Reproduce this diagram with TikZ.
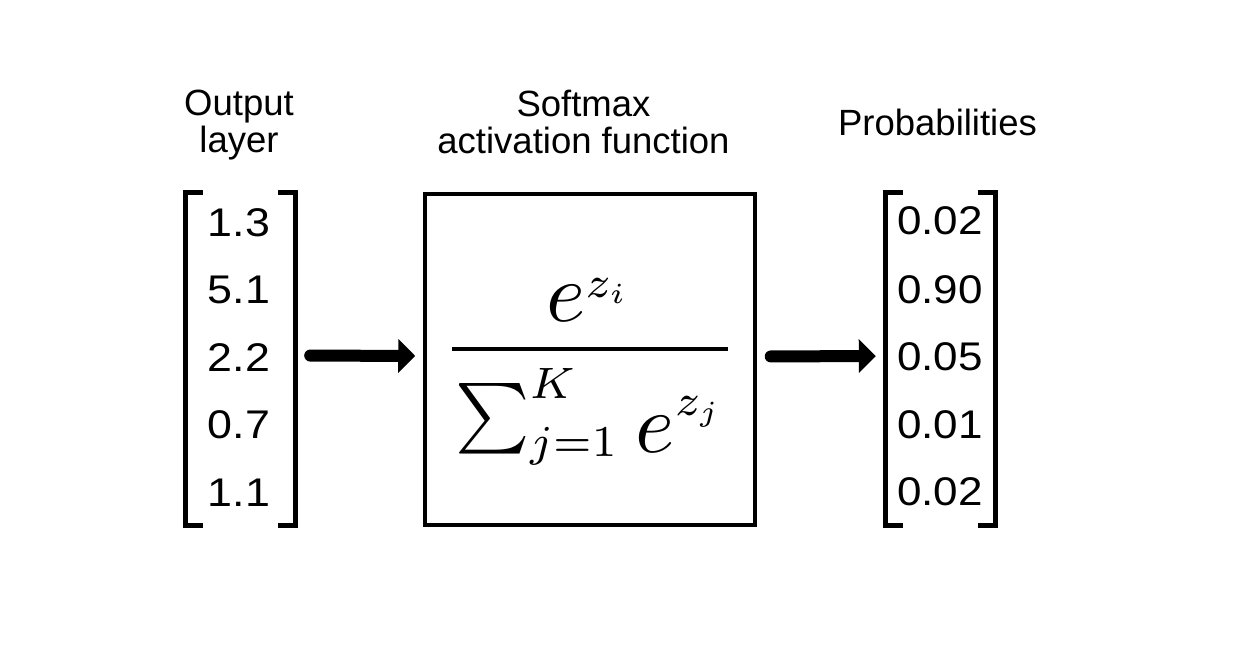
\documentclass[tikz,border=0pt]{standalone}
\usepackage[no-math]{fontspec}
\setmainfont{Liberation Sans}
\usepackage{graphicx}
\DeclareFontFamily{OT1}{cmr}{\hyphenchar\font45 }
\DeclareFontShape{OT1}{cmr}{m}{n}{<-35>cmr5 <35-60>cmr7 <60->cmr10}{}
\DeclareFontFamily{OML}{cmm}{\skewchar\font127 }
\DeclareFontShape{OML}{cmm}{m}{it}{<-35>cmmi5 <35-60>cmmi7 <60->cmmi10}{}
\DeclareFontFamily{OMS}{cmsy}{\skewchar\font48 }
\DeclareFontShape{OMS}{cmsy}{m}{n}{<-35>cmsy5 <35-60>cmsy7 <60->cmsy10}{}
\DeclareFontFamily{OMX}{cmex}{}
\DeclareFontShape{OMX}{cmex}{m}{n}{<->cmex10}{}
\DeclareMathSizes{84}{84}{44}{29}
\usetikzlibrary{arrows.meta}
\begin{document}
\begin{tikzpicture}[x=1pt,y=-1pt,
  lbl/.style={font=\fontsize{36.5}{36.5}\selectfont, align=center, inner sep=0pt, anchor=north},
  num/.style={font=\fontsize{40}{40}\selectfont, inner sep=0pt},
  brk/.style={line width=5.5pt, line join=miter},
  arr/.style={line width=12pt, line cap=round, -{Triangle[length=17pt,width=33pt]}},
  vecbox/.style={inner sep=0pt, minimum width=115pt, minimum height=338pt},
  fnbox/.style={draw, line width=3.5pt, minimum width=330pt, minimum height=331pt, inner sep=0pt},
  formula/.style={inner sep=0pt, anchor=base, font=\fontsize{84}{90}\selectfont}]
\useasboundingbox (0,0) rectangle (1240,663);
\fill[white] (0,0) rectangle (1240,663);

% labels
\node[lbl] (outl) at (239,90) {Output\\layer};
\node[lbl] (softl) at (583.5,90) {Softmax\\activation function};
\node[lbl] (probl) at (937.5,109) {Probabilities};

% vectors
\node[vecbox] (lvec) at (240.5,359) {};
\node[vecbox] (rvec) at (940.5,359) {};

\draw[brk] ([xshift=20pt,yshift=-2.75pt]lvec.north west) -| ([xshift=2.75pt,yshift=2.75pt]lvec.south west) -- ([xshift=20pt,yshift=2.75pt]lvec.south west);
\draw[brk] ([xshift=-20pt,yshift=-2.75pt]lvec.north east) -| ([xshift=-2.75pt,yshift=2.75pt]lvec.south east) -- ([xshift=-20pt,yshift=2.75pt]lvec.south east);
\draw[brk] ([xshift=20pt,yshift=-2.75pt]rvec.north west) -| ([xshift=2.75pt,yshift=2.75pt]rvec.south west) -- ([xshift=20pt,yshift=2.75pt]rvec.south west);
\draw[brk] ([xshift=-20pt,yshift=-2.75pt]rvec.north east) -| ([xshift=-2.75pt,yshift=2.75pt]rvec.south east) -- ([xshift=-20pt,yshift=2.75pt]rvec.south east);

\node[num] (l1) at (239,222.5) {\scalebox{1.12}[1]{1.3}};
\node[num] (l2) at (239,290) {\scalebox{1.12}[1]{5.1}};
\node[num] (l3) at (239,357.5) {\scalebox{1.12}[1]{2.2}};
\node[num] (l4) at (239,425) {\scalebox{1.12}[1]{0.7}};
\node[num] (l5) at (239,492.5) {\scalebox{1.12}[1]{1.1}};

\node[num] (r1) at (940,221) {\scalebox{1.1}[1]{0.02}};
\node[num] (r2) at (940,289.5) {\scalebox{1.1}[1]{0.90}};
\node[num] (r3) at (940,357) {\scalebox{1.1}[1]{0.05}};
\node[num] (r4) at (940,425) {\scalebox{1.1}[1]{0.01}};
\node[num] (r5) at (940,492) {\scalebox{1.1}[1]{0.02}};

% softmax box
\node[fnbox] (box) at (590,359.5) {};
\node[formula] (frac) at (590,370)
  {$\fontdimen8\textfont2=49pt \fontdimen11\textfont2=82pt
    \fontdimen14\textfont2=24pt \fontdimen15\textfont2=37pt
    \fontdimen17\textfont2=0pt
    \displaystyle\frac{e^{z_i}\kern8pt}{\kern3pt\mathop{\raisebox{16pt}{\scalebox{0.84}{$\textstyle\sum$}}}\nolimits_{j=1}^{K}\mskip1mu e^{z_j}\kern9pt}$};

% arrows
\draw[arr, shorten <=12pt, shorten >=8pt] ([yshift=3.5pt]lvec.east) -- ([yshift=3.5pt]box.west);
\draw[arr, shorten <=14pt, shorten >=7pt] ([yshift=3pt]box.east) -- ([yshift=3pt]rvec.west);
\end{tikzpicture}
\end{document}
